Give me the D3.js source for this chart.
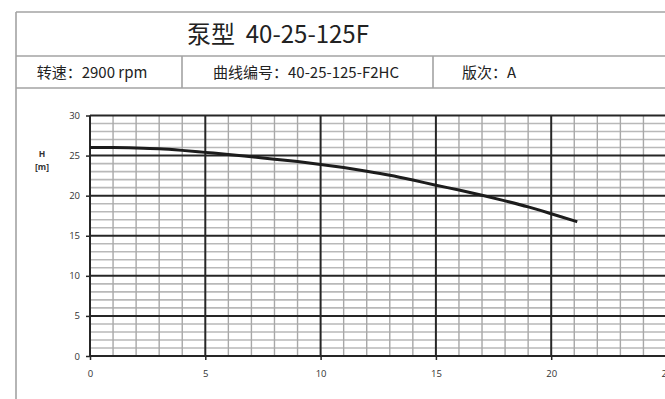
<!DOCTYPE html>
<html><head><meta charset="utf-8">
<script src="https://cdn.jsdelivr.net/npm/d3@7"></script>
<style>
html,body{margin:0;padding:0;background:#fff;overflow:hidden;}
svg{display:block;}
</style></head>
<body>
<svg id="c" width="665" height="399"></svg>
<script>
// ---- data ----
const flow = [0,1,2,3,4,5,6,7,8,9,10,11,12,13,14,15,16,17,18,19,20,21.13];
const head = [26.0,26.0,25.95,25.85,25.65,25.4,25.15,24.85,24.55,24.25,23.9,23.5,23.05,22.55,21.95,21.3,20.7,20.05,19.35,18.6,17.75,16.75];
const xTicks = [0,5,10,15,20,25];
const yTicks = [0,5,10,15,20,25,30];
const titleText = "泵型  40-25-125F";
const infoTexts = ["转速：2900 rpm","曲线编号：40-25-125-F2HC","版次：A"];
const yLabel = ["H","[m]"];

const svg = d3.select("#c");
const CJK = "'Noto Sans CJK SC','Open Sans',sans-serif";
const LAT = "'Open Sans','Noto Sans CJK SC',sans-serif";

// ---- header frame ----
const frame = svg.append("g").attr("stroke","#a3a3a3").attr("stroke-width",1.6).attr("fill","none");
frame.append("line").attr("x1",16).attr("x2",700).attr("y1",12).attr("y2",12);
frame.append("line").attr("x1",16).attr("x2",16).attr("y1",12).attr("y2",420);
frame.append("line").attr("x1",16).attr("x2",700).attr("y1",56).attr("y2",56);
frame.append("line").attr("x1",16).attr("x2",700).attr("y1",88).attr("y2",88);
[182,433].forEach(xv=>frame.append("line").attr("x1",xv).attr("x2",xv).attr("y1",56).attr("y2",88));

svg.append("text").attr("x",278).attr("y",43).attr("text-anchor","middle")
  .style("white-space","pre")
  .attr("font-family",CJK).attr("font-size",24).attr("fill","#222").text(titleText);

const infoX = [92,306,462];
const infoAnchor = ["middle","middle","start"];
infoTexts.forEach((t,i)=>{
  svg.append("text").attr("x",infoX[i]).attr("y",78).attr("text-anchor",infoAnchor[i])
    .attr("font-family",CJK).attr("font-size",15).attr("fill","#222").text(t);
});

// ---- chart ----
const x = d3.scaleLinear().domain([0,25]).range([90,666.5]);
const y = d3.scaleLinear().domain([0,30]).range([356,115.5]);

const minorX = d3.range(0,26,1).filter(v=>v%5!==0);
const minorY = d3.range(0,31,1).filter(v=>v%5!==0);

const g = svg.append("g");
g.selectAll(".mh").data(minorY).join("line")
  .attr("x1",x(0)).attr("x2",x(25)).attr("y1",d=>y(d)).attr("y2",d=>y(d))
  .attr("stroke","#b9b9b9").attr("stroke-width",1.6);
g.selectAll(".mv").data(minorX).join("line")
  .attr("x1",d=>x(d)).attr("x2",d=>x(d)).attr("y1",y(0)).attr("y2",y(30))
  .attr("stroke","#a8a8a8").attr("stroke-width",1.4);
g.selectAll(".Mh").data(yTicks).join("line")
  .attr("x1",x(0)).attr("x2",x(25)).attr("y1",d=>y(d)).attr("y2",d=>y(d))
  .attr("stroke","#262626").attr("stroke-width",2);
g.selectAll(".Mv").data(xTicks).join("line")
  .attr("x1",d=>x(d)).attr("x2",d=>x(d)).attr("y1",y(0)).attr("y2",y(30))
  .attr("stroke","#262626").attr("stroke-width",2);

// axes
const yAxis = svg.append("g").attr("transform",`translate(${x(0)},0)`)
  .call(d3.axisLeft(y).tickValues(yTicks).tickSize(4).tickPadding(6));
const xAxis = svg.append("g").attr("transform",`translate(0,${y(0)})`)
  .call(d3.axisBottom(x).tickValues(xTicks).tickSize(4).tickPadding(10));
[yAxis,xAxis].forEach(a=>{
  a.select(".domain").remove();
  a.selectAll(".tick line").attr("stroke","#262626").attr("stroke-width",1.5);
  a.selectAll("text").attr("font-family",LAT).attr("font-size",9.5).attr("fill","#333");
});

// y label
yLabel.forEach((t,i)=>{
  svg.append("text").attr("x",42).attr("y",157+i*13).attr("text-anchor","middle")
    .attr("font-family",LAT).attr("font-size",8.5).attr("font-weight","bold").attr("fill","#333").text(t);
});

// curve
const line = d3.line().x((d,i)=>x(flow[i])).y(d=>y(d)).curve(d3.curveMonotoneX);
svg.append("path").attr("d",line(head)).attr("fill","none")
  .attr("stroke","#1c1c1c").attr("stroke-width",3);
</script>
</body></html>
